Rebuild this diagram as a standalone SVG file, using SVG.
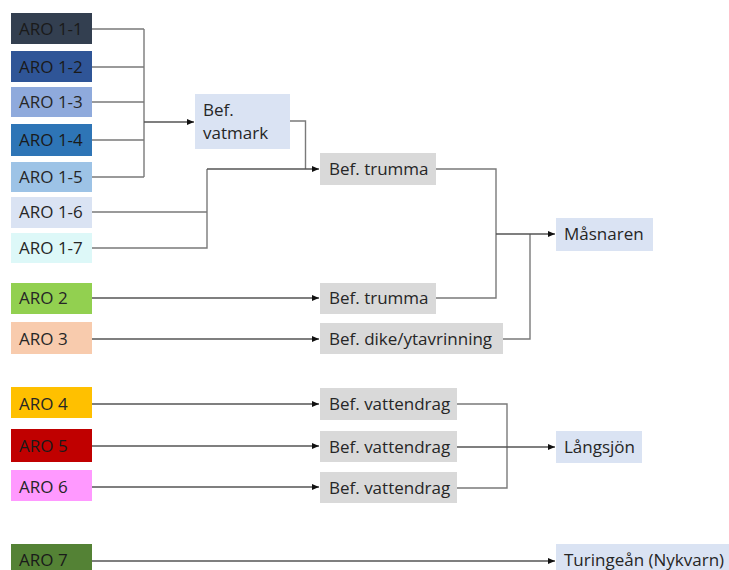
<svg xmlns="http://www.w3.org/2000/svg" width="729" height="570" viewBox="0 0 729 570">
<style>
text{font-family:"Open Sans","Liberation Sans",sans-serif;font-size:17px;fill:#262626}
.w{fill:#1a1a1a}
.c{fill:none;stroke:#7a7a7a;stroke-width:1.4}
.a{fill:none;stroke:#555;stroke-width:1.3;marker-end:url(#ah)}
.blue{fill:#DAE3F3}
.gray{fill:#D9D9D9}
</style>
<defs>
<marker id="ah" markerWidth="8" markerHeight="8" refX="7" refY="4" orient="auto" markerUnits="userSpaceOnUse">
<path d="M0,1 L7,4 L0,7 z" fill="#111"/>
</marker>
</defs>
<rect width="729" height="570" fill="#fff"/>
<g id="connectors">
<path class="c" d="M92,29H144M92,67H144M92,102H144M92,140H144M92,177H144M144,29V177"/>
<path class="a" d="M144,122H194"/>
<path class="c" d="M290,121H305.5V169"/>
<path class="c" d="M92,212H207M92,248H207V169"/>
<path class="a" d="M207,169H319"/>
<path class="c" d="M436,169H496V298H436"/>
<path class="c" d="M503,339H530V234"/>
<path class="a" d="M496,234H555"/>
<path class="a" d="M92,298H319"/>
<path class="a" d="M92,339H319"/>
<path class="a" d="M92,404H319"/>
<path class="a" d="M92,446H319"/>
<path class="a" d="M92,487H319"/>
<path class="c" d="M457,404H507V488H457"/>
<path class="a" d="M457,447H555"/>
<path class="a" d="M92,561H555"/>
</g>
<g id="aro11"><rect x="11" y="13" width="81" height="31" fill="#333F50"/><text x="19" y="35" class="w">ARO 1-1</text></g>
<g id="aro12"><rect x="11" y="51" width="81" height="31" fill="#2F5597"/><text x="19" y="73" class="w">ARO 1-2</text></g>
<g id="aro13"><rect x="11" y="87" width="81" height="30" fill="#8FAADC"/><text x="19" y="108">ARO 1-3</text></g>
<g id="aro14"><rect x="11" y="124" width="81" height="32" fill="#2E75B6"/><text x="19" y="146" class="w">ARO 1-4</text></g>
<g id="aro15"><rect x="11" y="162" width="81" height="30" fill="#9DC3E6"/><text x="19" y="183">ARO 1-5</text></g>
<g id="aro16"><rect x="11" y="197" width="81" height="31" fill="#DAE3F3"/><text x="19" y="218">ARO 1-6</text></g>
<g id="aro17"><rect x="11" y="233" width="81" height="30" fill="#DDF8F8"/><text x="19" y="254">ARO 1-7</text></g>
<g id="aro2"><rect x="11" y="283" width="81" height="31" fill="#92D050"/><text x="19" y="304">ARO 2</text></g>
<g id="aro3"><rect x="11" y="322" width="81" height="32" fill="#F8CBAD"/><text x="19" y="345">ARO 3</text></g>
<g id="aro4"><rect x="11" y="387" width="81" height="31" fill="#FFC000"/><text x="19" y="410">ARO 4</text></g>
<g id="aro5"><rect x="11" y="429" width="81" height="33" fill="#C00000"/><text x="19" y="452" class="w">ARO 5</text></g>
<g id="aro6"><rect x="11" y="470" width="81" height="31" fill="#FF99FF"/><text x="19" y="493">ARO 6</text></g>
<g id="aro7"><rect x="11" y="544" width="81" height="31" fill="#548235"/><text x="19" y="566" class="w">ARO 7</text></g>
<g id="vatmark"><rect x="195" y="94" width="95" height="55" class="blue"/><text x="203" y="116">Bef.</text><text x="203" y="139">vatmark</text></g>
<g id="trumma1"><rect x="320" y="153" width="116" height="32" class="gray"/><text x="329" y="175">Bef. trumma</text></g>
<g id="trumma2"><rect x="320" y="283" width="116" height="31" class="gray"/><text x="329" y="304">Bef. trumma</text></g>
<g id="dike"><rect x="320" y="323" width="183" height="31" class="gray"/><text x="329" y="345">Bef. dike/ytavrinning</text></g>
<g id="vattendrag1"><rect x="320" y="388" width="137" height="32" class="gray"/><text x="329" y="410">Bef. vattendrag</text></g>
<g id="vattendrag2"><rect x="320" y="431" width="137" height="31" class="gray"/><text x="329" y="453">Bef. vattendrag</text></g>
<g id="vattendrag3"><rect x="320" y="472" width="137" height="31" class="gray"/><text x="329" y="494">Bef. vattendrag</text></g>
<g id="masnaren"><rect x="556" y="218" width="97" height="33" class="blue"/><text x="564" y="240">Måsnaren</text></g>
<g id="langsjon"><rect x="556" y="431" width="86" height="32" class="blue"/><text x="564" y="453">Långsjön</text></g>
<g id="turingean"><rect x="556" y="544" width="173" height="31" class="blue"/><text x="564" y="566">Turingeån (Nykvarn)</text></g>
</svg>
